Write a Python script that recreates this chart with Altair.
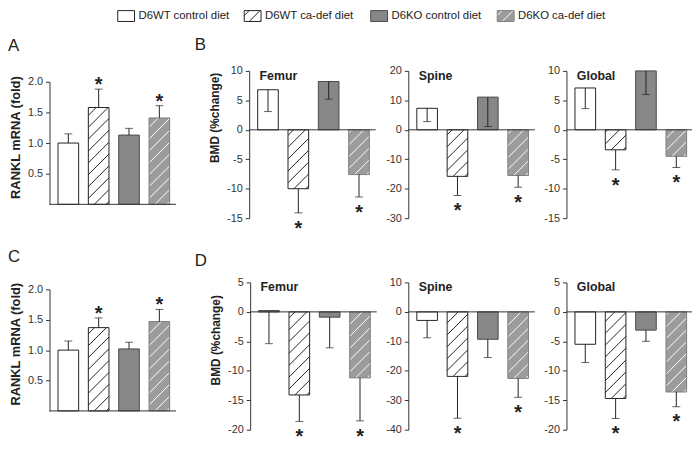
import altair as alt
import numpy as np
import pandas as pd

FONT = "Liberation Sans"
INK = "#222222"

# ---------------- data ----------------
groups = ["D6WT control diet", "D6WT ca-def diet", "D6KO control diet", "D6KO  ca-def diet"]
hatched = [False, True, False, True]
fills = ["#ffffff", "#ffffff", "#878787", "#9c9c9c"]
strokes = ["#222222", "#222222", "#4a4a4a", "#7c7c7c"]
hatch_colors = ["", "#222222", "", "#ffffff"]

# RANKL mRNA (fold) - panel A (top) and C (bottom); error bars upward
a_mean = [1.00, 1.58, 1.13, 1.41]
a_err = [0.15, 0.30, 0.11, 0.20]
c_mean = [1.00, 1.37, 1.02, 1.47]
c_err = [0.15, 0.16, 0.11, 0.20]
rankl_sig = [False, True, False, True]

# BMD (%change) - panels B (top) and D (bottom); error bars downward
b_femur_mean = [6.8, -10.0, 8.2, -7.6]
b_femur_err = [3.7, 4.1, 3.0, 3.8]
b_spine_mean = [7.3, -15.8, 11.1, -15.5]
b_spine_err = [4.5, 6.5, 10.0, 4.0]
b_global_mean = [7.1, -3.4, 10.0, -4.5]
b_global_err = [3.5, 3.4, 4.0, 1.9]
d_femur_mean = [0.2, -14.1, -0.9, -11.2]
d_femur_err = [5.6, 4.5, 5.2, 7.3]
d_spine_mean = [-2.9, -21.9, -9.3, -22.6]
d_spine_err = [5.9, 14.2, 6.2, 6.4]
d_global_mean = [-5.5, -14.7, -3.1, -13.6]
d_global_err = [3.1, 3.4, 1.9, 2.5]
bmd_sig = [False, True, False, True]

# tick values
ticks_rankl = [0.5, 1.0, 1.5, 2.0]
ticks_b_femur = [10, 5, 0, -5, -10, -15]
ticks_b_spine = [20, 10, 0, -10, -20, -30]
ticks_b_global = [10, 5, 0, -5, -10, -15]
ticks_d_femur = [5, 0, -5, -10, -15, -20]
ticks_d_spine = [10, 0, -10, -20, -30, -40]
ticks_d_global = [5, 0, -5, -10, -15, -20]

# ---------------- layout ----------------
W, H = 692, 450
PANEL_W = 128.0
XDOM = [-0.62, 3.55]
BAR_HALF = 0.34


def lin(d, r):
    d0, d1 = d
    r0, r1 = r
    k = (r1 - r0) / (d1 - d0)
    return (lambda v: r0 + (v - d0) * k), (lambda p: d0 + (p - r0) / k)


def hatch_rows(x0, x1, y0, y1, xdom, xrng, ydom, yrng, color, spacing=12.0, phase=6.0):
    fx, ix = lin(xdom, xrng)
    fy, iy = lin(ydom, yrng)
    px0, px1 = sorted((fx(x0), fx(x1)))
    top, bot = sorted((fy(y0), fy(y1)))
    anchor = px0 + bot + phase
    kmin, kmax = px0 + top, px1 + bot
    m0 = int(np.floor((kmin - anchor) / spacing))
    m1 = int(np.ceil((kmax - anchor) / spacing))
    rows = []
    for m in range(m0, m1 + 1):
        k = anchor + m * spacing
        a = max(px0, k - bot)
        b = min(px1, k - top)
        if b - a > 0.8:
            rows.append({"x": ix(a), "y": iy(k - a), "x2": ix(b), "y2": iy(k - b), "c": color})
    return rows


def panel(means, errs, sig, spec):
    xr = [spec["ax"], spec["ax"] + PANEL_W]
    yr = [spec["bottom"], spec["top"]]
    xs = alt.Scale(domain=XDOM, range=xr, nice=False, zero=False)
    ys = alt.Scale(domain=spec["ydom"], range=yr, nice=False, zero=False)
    df = pd.DataFrame({"idx": list(range(4)), "mean": means, "err": errs, "sig": sig,
                       "fill": fills, "stroke": strokes})
    df["end"] = df["mean"] + spec["dir"] * df["err"]

    axis_kw = dict(orient="left", offset=-spec["ax"], values=spec["ticks"], format=spec["fmt"],
                   labelExpr="replace(datum.label, '\u2212', '-')",
                   grid=False, tickSize=4, tickColor="#333333", domainColor="#333333",
                   labelColor="#333333", labelFont=FONT, labelFontSize=11, labelPadding=3)
    if spec.get("title"):
        axis_kw.update(title=spec["title"], titleFont=FONT, titleFontSize=spec["tfs"],
                       titleFontWeight="bold", titleColor=INK, titleX=spec["tx"], titleY=spec["ty"],
                       titleAngle=270, titleAlign="center", titleBaseline="middle")
    else:
        axis_kw.update(title=None)
    axis = alt.Axis(**axis_kw)

    def X(field):
        return alt.X(field, type="quantitative", scale=xs, axis=None)

    def Y(field):
        return alt.Y(field, type="quantitative", scale=ys, axis=axis)

    base = alt.Chart(df).transform_calculate(
        x0=f"datum.idx - {BAR_HALF}", x1=f"datum.idx + {BAR_HALF}")

    bars = base.mark_rect(strokeWidth=0).encode(
        x=X("x0"), x2="x1:Q", y=Y("mean"), y2=alt.datum(0),
        fill=alt.Fill("fill:N", scale=None))

    rows = []
    for i in range(4):
        if hatched[i]:
            rows += hatch_rows(i - BAR_HALF, i + BAR_HALF, 0, means[i], XDOM, xr,
                               spec["ydom"], yr, hatch_colors[i])
    hatch = alt.Chart(pd.DataFrame(rows)).mark_rule(strokeWidth=1).encode(
        x=X("x"), x2="x2:Q", y=Y("y"), y2="y2:Q",
        color=alt.Color("c:N", scale=None))

    outline = base.mark_rect(fillOpacity=0, strokeWidth=1).encode(
        x=X("x0"), x2="x1:Q", y=Y("mean"), y2=alt.datum(0),
        stroke=alt.Stroke("stroke:N", scale=None))

    errbar = base.mark_rule(strokeWidth=1, color=INK).encode(
        x=X("idx"), y=Y("mean"), y2="end:Q")

    caps = base.mark_tick(orient="horizontal", size=8, thickness=1, color=INK).encode(
        x=X("idx"), y=Y("end"))

    one = pd.DataFrame({"site": [spec.get("site") or ""]})
    baseline = alt.Chart(one).mark_rule(strokeWidth=1, color="#333333").encode(
        x=alt.X(datum=XDOM[0], scale=xs, axis=None), x2=alt.datum(XDOM[1]),
        y=alt.Y(datum=0, scale=ys, axis=axis))

    stars = base.transform_filter("datum.sig").mark_text(
        text="*", font=FONT, fontSize=20, fontWeight="bold", color=INK,
        baseline="alphabetic", dy=spec["star_dy"]).encode(
        x=X("idx"), y=Y("end"))

    parts = [bars, hatch, outline, errbar, caps, baseline, stars]
    if spec.get("site"):
        site = alt.Chart(one).mark_text(font=FONT, fontSize=12.5, fontWeight="bold", color=INK,
                                        align="left", baseline="middle", dx=10.5, dy=5).encode(
            x=alt.X(datum=XDOM[0], scale=xs, axis=None),
            y=alt.Y(datum=spec["ydom"][1], scale=ys, axis=axis),
            text="site:N")
        parts.append(site)
    return alt.layer(*parts)


top_b = dict(top=61, bottom=210, fmt="d", dir=-1, star_dy=22)
bot_d = dict(top=275, bottom=424, fmt="d", dir=-1, star_dy=22)

panels = [
    panel(a_mean, a_err, rankl_sig, dict(ax=42, top=72, bottom=196, ydom=[0, 2], ticks=ticks_rankl,
                                         fmt=".1f", dir=1, star_dy=2, title="RANKL mRNA (fold)",
                                         tfs=13, tx=-34, ty=128)),
    panel(c_mean, c_err, rankl_sig, dict(ax=42, top=282, bottom=405, ydom=[0, 2], ticks=ticks_rankl,
                                         fmt=".1f", dir=1, star_dy=2, title="RANKL mRNA (fold)",
                                         tfs=13, tx=-34, ty=337)),
    panel(b_femur_mean, b_femur_err, bmd_sig, dict(top_b, ax=244, ydom=[-15, 10], ticks=ticks_b_femur,
                                                   site="Femur", title="BMD (%change)", tfs=12,
                                                   tx=-35, ty=108)),
    panel(b_spine_mean, b_spine_err, bmd_sig, dict(top_b, ax=405, ydom=[-30, 20], ticks=ticks_b_spine,
                                                   site="Spine")),
    panel(b_global_mean, b_global_err, bmd_sig, dict(top_b, ax=565, ydom=[-15, 10], ticks=ticks_b_global,
                                                     site="Global")),
    panel(d_femur_mean, d_femur_err, bmd_sig, dict(bot_d, ax=245, ydom=[-20, 5], ticks=ticks_d_femur,
                                                   site="Femur", title="BMD (%change)", tfs=12,
                                                   tx=-35, ty=333)),
    panel(d_spine_mean, d_spine_err, bmd_sig, dict(bot_d, ax=405, ydom=[-40, 10], ticks=ticks_d_spine,
                                                   site="Spine")),
    panel(d_global_mean, d_global_err, bmd_sig, dict(bot_d, ax=565, ydom=[-20, 5], ticks=ticks_d_global,
                                                     site="Global")),
]

# ---------------- legend ----------------
LEG_X = [111, 495]
LEG_Y = [11, 0]
LEG_DOM = [0, 3]
box_w = 17.0 / ((LEG_X[1] - LEG_X[0]) / (LEG_DOM[1] - LEG_DOM[0]))
lxs = alt.Scale(domain=LEG_DOM, range=LEG_X, nice=False, zero=False)
lys = alt.Scale(domain=[0, 1], range=LEG_Y, nice=False, zero=False)
leg_df = pd.DataFrame({"idx": list(range(4)), "label": groups, "fill": fills, "stroke": strokes})
leg_base = alt.Chart(leg_df).transform_calculate(x1=f"datum.idx + {box_w}")
leg_box = leg_base.mark_rect(strokeWidth=1).encode(
    x=alt.X("idx:Q", scale=lxs, axis=None), x2="x1:Q",
    y=alt.Y(datum=0, scale=lys, axis=None), y2=alt.datum(1),
    fill=alt.Fill("fill:N", scale=None))
leg_rows = []
for i in range(4):
    if hatched[i]:
        leg_rows += hatch_rows(i, i + box_w, 0, 1, LEG_DOM, LEG_X, [0, 1], LEG_Y, hatch_colors[i],
                               spacing=11.0, phase=5.0)
leg_hatch = alt.Chart(pd.DataFrame(leg_rows)).mark_rule(strokeWidth=1).encode(
    x=alt.X("x:Q", scale=lxs, axis=None), x2="x2:Q",
    y=alt.Y("y:Q", scale=lys, axis=None), y2="y2:Q",
    color=alt.Color("c:N", scale=None))
leg_outline = leg_base.mark_rect(fillOpacity=0, strokeWidth=1).encode(
    x=alt.X("idx:Q", scale=lxs, axis=None), x2="x1:Q",
    y=alt.Y(datum=0, scale=lys, axis=None), y2=alt.datum(1),
    stroke=alt.Stroke("stroke:N", scale=None))
leg_text = leg_base.mark_text(font=FONT, fontSize=11.5, color=INK, align="left",
                              baseline="middle", dx=21).encode(
    x=alt.X("idx:Q", scale=lxs, axis=None),
    y=alt.Y(datum=0.5, scale=lys, axis=None),
    text="label:N")
legend = alt.layer(leg_box, leg_hatch, leg_outline, leg_text)

# ---------------- panel letters ----------------
one_row = pd.DataFrame({"k": [0]})
letters = []
for letter, lx, ly in [("A", 0, 36), ("B", 189, 34.5), ("C", 0, 249.5), ("D", 189, 253)]:
    letters.append(alt.Chart(one_row).mark_text(text=letter, font=FONT, fontSize=17, color=INK,
                                                align="left", baseline="middle").encode(
        x=alt.value(lx), y=alt.value(ly)))

chart = alt.layer(legend, *panels, *letters).resolve_scale(
    x="independent", y="independent"
).properties(
    width=W, height=H, padding=0, autosize=alt.AutoSizeParams(type="none")
).configure_view(strokeWidth=0)

chart.save("out.html", embed_options={"renderer": "svg", "actions": False})
